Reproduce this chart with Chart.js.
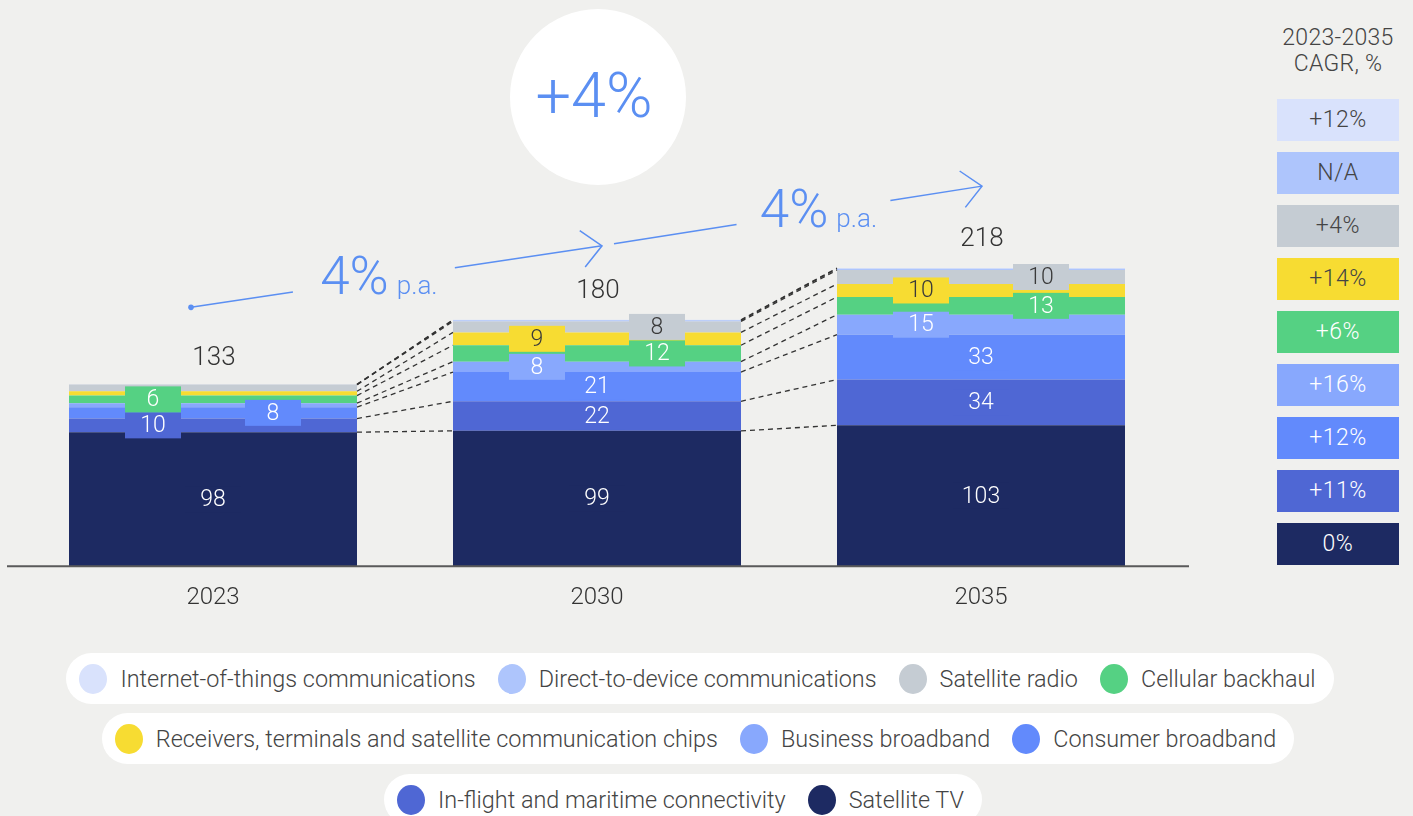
<!DOCTYPE html>
<html><head><meta charset="utf-8">
<script src="https://cdn.jsdelivr.net/npm/chart.js@4.4.1/dist/chart.umd.min.js"></script>
<style>
html,body{margin:0;padding:0;background:#f0f0ee;width:1413px;height:816px;overflow:hidden;font-family:Roboto,"Helvetica Neue",Arial,sans-serif;font-weight:300;}
#wrap{position:absolute;left:0;top:0;width:1200px;height:640px;}
.ct{position:absolute;left:1258px;width:160px;top:25px;text-align:center;font-size:23px;letter-spacing:0.3px;line-height:26px;color:#444;}
.cb{position:absolute;left:1277px;width:122px;height:42px;line-height:42px;text-align:center;font-size:23px;letter-spacing:0.5px;}
.row{position:absolute;left:0;width:1400px;display:flex;justify-content:center;}
.pill{background:#fff;border-radius:26px;height:51px;display:flex;align-items:center;padding:0 18px 0 13px;}
.item{display:flex;align-items:center;margin-right:22px;font-size:23.4px;color:#444;white-space:nowrap;}
.item:last-child{margin-right:0;}
.dot{width:28px;height:30px;border-radius:50%;margin-right:13px;flex:none;}
</style>
</head><body>
<div id="wrap"><canvas id="c"></canvas></div>
<div class="ct">2023-2035<br>CAGR, %</div>
<div id="cagr"></div>
<div id="legend"></div>
<script>
// ---- data ----
const categories = ['2023', '2030', '2035'];
const satelliteTV = [98, 99, 103];
const inflightMaritime = [10, 21.6, 33.5];
const consumerBroadband = [8.3, 21.4, 32.8];
const businessBroadband = [2.9, 7.6, 14.6];
const cellularBackhaul = [5.6, 12, 13];
const receiversChips = [3.1, 9.4, 9.5];
const satelliteRadio = [4.9, 8, 10.2];
const directToDevice = [0, 0.8, 1.0];
const iotComms = [0.2, 0.4, 0.4];
const seriesNames = ['Satellite TV', 'In-flight and maritime connectivity', 'Consumer broadband', 'Business broadband', 'Cellular backhaul', 'Receivers, terminals and satellite communication chips', 'Satellite radio', 'Direct-to-device communications', 'Internet-of-things communications'];
const cagrLabels = ['0%', '+11%', '+12%', '+16%', '+6%', '+14%', '+4%', 'N/A', '+12%'];
const headlineGrowth = '+4%';
const periodGrowth = ['4%', '4%'];
const periodUnit = 'p.a.';

// ---- styles ----
const colors = ['#1d2a62', '#4f67d4', '#628afc', '#88a8fd', '#55d183', '#f7dc32', '#c5ccd3', '#aec5fc', '#d9e2fc'];
const darkText = [false, false, false, false, false, true, true, true, true];
// label placement per series per category: c=centre, l=left, r=right, null=none
const placement = [
  ['c', 'c', 'c'],
  ['l', 'c', 'c'],
  ['r', 'c', 'c'],
  [null, 'l', 'l'],
  ['l', 'r', 'r'],
  [null, 'l', 'l'],
  [null, 'r', 'r'],
  [null, null, null],
  [null, null, null]
];
const FONT = 'Roboto, "Helvetica Neue", Arial, sans-serif';
const BLUE = '#5b8ff2';

const seriesValues = [satelliteTV, inflightMaritime, consumerBroadband, businessBroadband, cellularBackhaul, receiversChips, satelliteRadio, directToDevice, iotComms];

const datasets = seriesValues.map((v, k) => ({
  label: seriesNames[k], data: v, backgroundColor: colors[k], borderWidth: 0,
  barPercentage: 1, categoryPercentage: 0.75, stack: 's'
}));

const overlay = {
  id: 'overlay',
  afterDatasetsDraw(chart) {
    const ctx = chart.ctx, ca = chart.chartArea, ys = chart.scales.y;
    const n = chart.data.datasets.length;
    // dashed connectors
    ctx.save();
    ctx.strokeStyle = '#333'; ctx.lineWidth = 1.3; ctx.setLineDash([5, 4]);
    for (let d = 0; d < n; d++) {
      const meta = chart.getDatasetMeta(d);
      for (let i = 0; i < meta.data.length - 1; i++) {
        const a = meta.data[i], b = meta.data[i + 1];
        ctx.beginPath(); ctx.moveTo(a.x + a.width / 2, a.y); ctx.lineTo(b.x - b.width / 2, b.y); ctx.stroke();
      }
    }
    ctx.restore();
    // baseline
    ctx.save();
    ctx.strokeStyle = '#5a5a5a'; ctx.lineWidth = 2;
    ctx.beginPath(); ctx.moveTo(ca.left - 14, ca.bottom); ctx.lineTo(ca.right + 16, ca.bottom); ctx.stroke();
    ctx.restore();
    // segment labels
    ctx.save();
    ctx.font = '300 23px ' + FONT; ctx.textAlign = 'center'; ctx.textBaseline = 'middle';
    for (let d = 0; d < n; d++) {
      const meta = chart.getDatasetMeta(d);
      meta.data.forEach((el, i) => {
        const p = placement[d][i];
        if (!p) return;
        const cx = el.x + (p === 'l' ? -60 : p === 'r' ? 60 : 0);
        const cy = (el.y + el.base) / 2;
        ctx.fillStyle = colors[d];
        ctx.fillRect(cx - 28, cy - 13, 56, 26);
        ctx.fillStyle = darkText[d] ? '#3a3a3a' : '#ffffff';
        ctx.fillText(String(Math.round(seriesValues[d][i])), cx, cy + 1);
      });
    }
    ctx.restore();
    // totals
    const top = chart.getDatasetMeta(n - 1).data;
    const totals = categories.map((_, i) => seriesValues.reduce((s, arr) => s + arr[i], 0));
    ctx.save();
    ctx.font = '300 26px ' + FONT; ctx.fillStyle = '#333'; ctx.textAlign = 'center'; ctx.textBaseline = 'alphabetic';
    top.forEach((el, i) => ctx.fillText(String(Math.round(totals[i])), el.x + 1, ys.getPixelForValue(totals[i]) - (i === 0 ? 19 : 22)));
    ctx.restore();
    // growth arrows
    const xs = top.map(e => e.x);
    const yt = totals.map(t => ys.getPixelForValue(t));
    drawArrow(ctx, [xs[0] - 22, yt[0] - 77], [xs[1] + 5, yt[1] - 74], 0.248, 0.642, true, periodGrowth[0]);
    drawArrow(ctx, [xs[1] + 17, yt[1] - 76], [xs[2] + 1, yt[2] - 82], 0.333, 0.751, false, periodGrowth[1]);
    // headline circle
    ctx.save();
    ctx.fillStyle = '#ffffff';
    ctx.beginPath(); ctx.arc(xs[1] + 1, 97, 88, 0, Math.PI * 2); ctx.fill();
    ctx.fillStyle = BLUE; ctx.font = '300 63px ' + FONT; ctx.textAlign = 'center'; ctx.textBaseline = 'alphabetic';
    ctx.fillText(headlineGrowth, xs[1] - 3, 117);
    ctx.restore();
  }
};

function drawArrow(ctx, p0, p1, t1, t2, dot, txt) {
  const pt = t => [p0[0] + (p1[0] - p0[0]) * t, p0[1] + (p1[1] - p0[1]) * t];
  ctx.save();
  ctx.strokeStyle = BLUE; ctx.fillStyle = BLUE; ctx.lineWidth = 1.5;
  const a = pt(t1), b = pt(t2);
  ctx.beginPath(); ctx.moveTo(p0[0], p0[1]); ctx.lineTo(a[0], a[1]); ctx.stroke();
  ctx.beginPath(); ctx.moveTo(b[0], b[1]); ctx.lineTo(p1[0], p1[1]); ctx.stroke();
  if (dot) { ctx.beginPath(); ctx.arc(p0[0], p0[1], 2.8, 0, Math.PI * 2); ctx.fill(); }
  const ang = Math.atan2(p1[1] - p0[1], p1[0] - p0[0]) + Math.PI;
  const L = 27;
  ctx.beginPath();
  ctx.moveTo(p1[0] + L * Math.cos(ang + 0.75), p1[1] + L * Math.sin(ang + 0.75));
  ctx.lineTo(p1[0], p1[1]);
  ctx.lineTo(p1[0] + L * Math.cos(ang - 0.75), p1[1] + L * Math.sin(ang - 0.75));
  ctx.stroke();
  // text
  const m = pt((t1 + t2) / 2);
  ctx.font = '300 53px ' + FONT; const w1 = ctx.measureText(txt).width;
  ctx.font = '300 26px ' + FONT; const w2 = ctx.measureText(periodUnit).width;
  const gap = 8, W = w1 + gap + w2;
  const x0 = m[0] + 5 - W / 2, by = m[1] + 14;
  ctx.textAlign = 'left'; ctx.textBaseline = 'alphabetic';
  ctx.font = '300 53px ' + FONT; ctx.fillText(txt, x0, by);
  ctx.font = '300 26px ' + FONT; ctx.fillText(periodUnit, x0 + w1 + gap, by);
  ctx.restore();
}

const chart = new Chart(document.getElementById('c'), {
  type: 'bar',
  data: { labels: categories, datasets },
  options: {
    responsive: true, maintainAspectRatio: false, animation: false,
    layout: { padding: { left: 21, right: 27, top: 156, bottom: 11 } },
    plugins: { legend: { display: false }, tooltip: { enabled: false } },
    scales: {
      x: { stacked: true, grid: { display: false, drawTicks: false }, border: { display: false },
           ticks: { padding: 17, color: '#333', font: { family: FONT, size: 24, weight: 300 } } },
      y: { stacked: true, display: false, min: 0, max: 300 }
    }
  },
  plugins: [overlay]
});

// CAGR panel (top to bottom = top of stack to bottom)
const cagr = document.getElementById('cagr');
for (let j = 0; j < seriesNames.length; j++) {
  const k = seriesNames.length - 1 - j;
  const d = document.createElement('div');
  d.className = 'cb';
  d.style.top = (98.6 + j * 53.1) + 'px';
  d.style.background = colors[k];
  d.style.color = darkText[k] ? '#444' : '#fff';
  d.textContent = cagrLabels[k];
  cagr.appendChild(d);
}

// Legend
const rows = [[8, 7, 6, 4], [5, 3, 2], [1, 0]];
const rowTops = [653, 713, 774];
const rowShift = [0, -2, -17];
const lg = document.getElementById('legend');
rows.forEach((r, ri) => {
  const row = document.createElement('div'); row.className = 'row';
  row.style.top = rowTops[ri] + 'px'; row.style.left = rowShift[ri] + 'px';
  const pill = document.createElement('div'); pill.className = 'pill';
  r.forEach(k => {
    const it = document.createElement('div'); it.className = 'item';
    const dt = document.createElement('span'); dt.className = 'dot'; dt.style.background = colors[k];
    const tx = document.createElement('span'); tx.textContent = seriesNames[k];
    it.appendChild(dt); it.appendChild(tx); pill.appendChild(it);
  });
  row.appendChild(pill); lg.appendChild(row);
});
</script>
</body></html>
